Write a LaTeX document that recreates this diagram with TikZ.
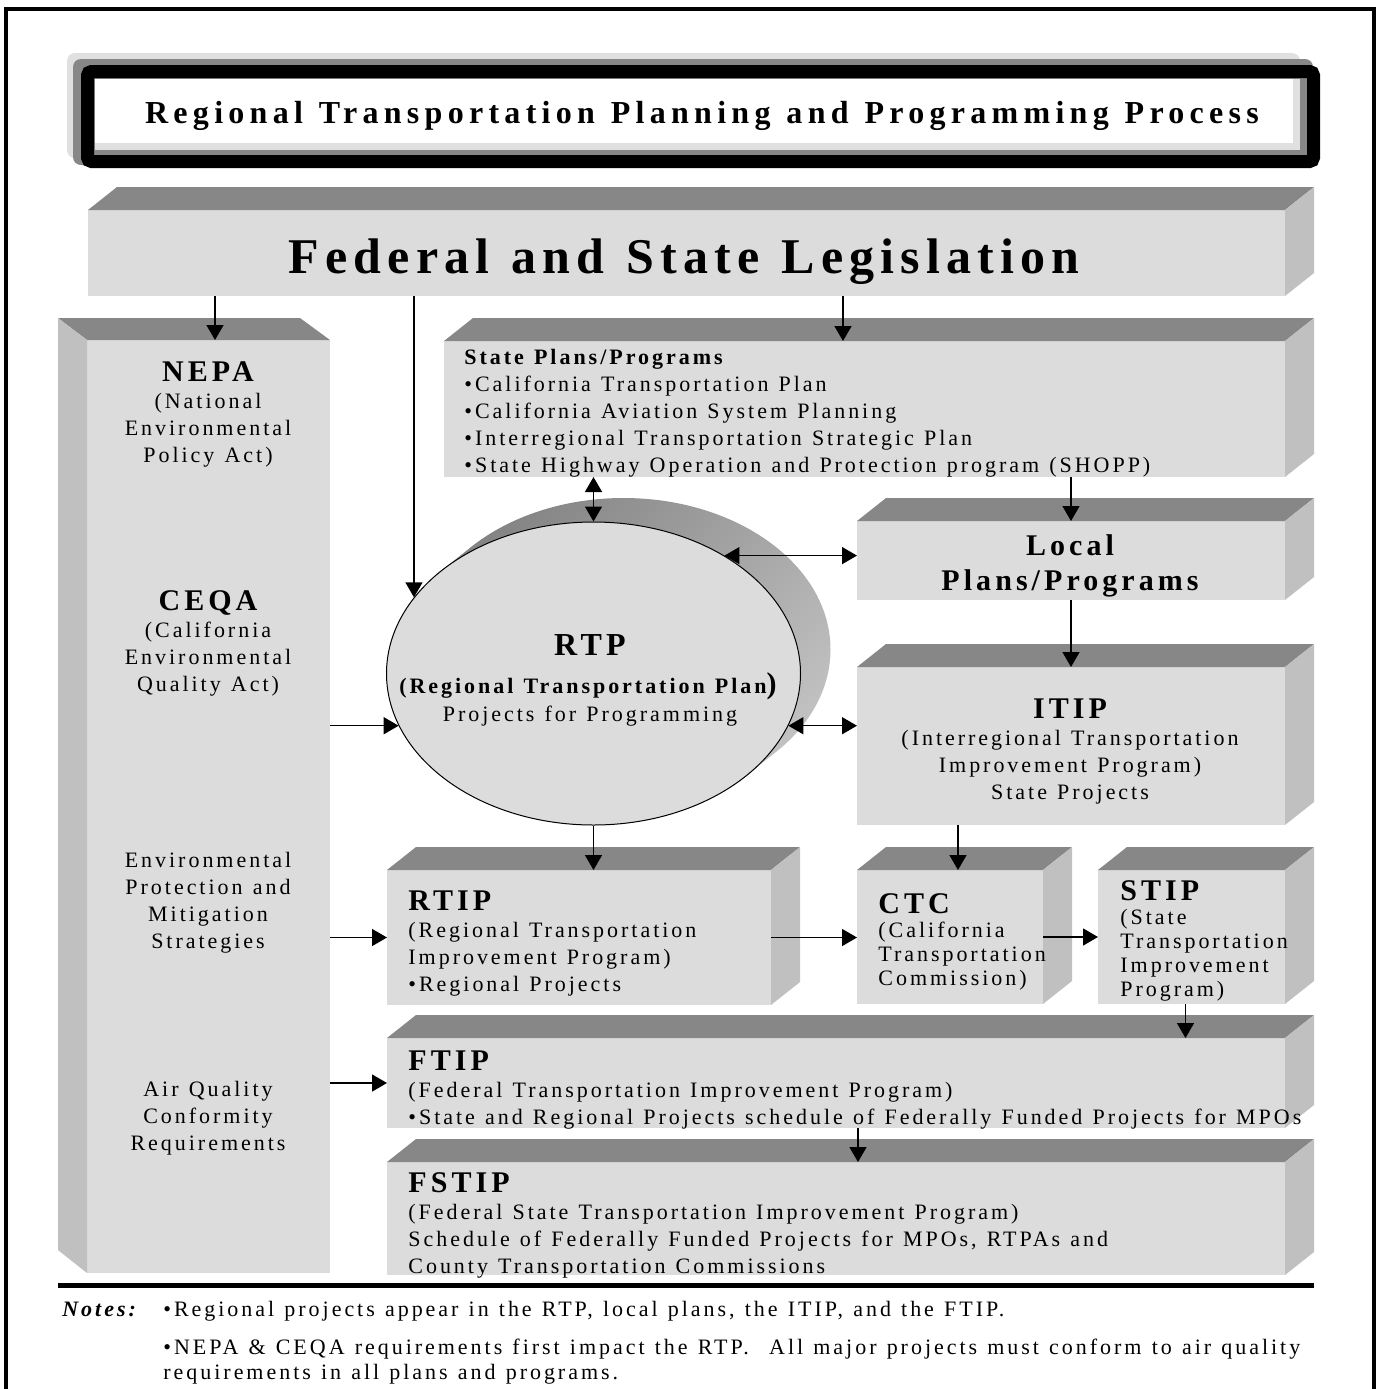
\documentclass[tikz,border=0pt]{standalone}
\usepackage{fontspec}
\setmainfont{Liberation Serif}[LetterSpace=13.5,WordSpace=1.2]
\usetikzlibrary{arrows.meta,calc,shapes.geometric}

\definecolor{facegray}{HTML}{DCDCDC}
\definecolor{topgray}{HTML}{878787}
\definecolor{sidegray}{HTML}{C0C0C0}
\definecolor{shadowdark}{HTML}{7E7E7E}
\definecolor{shadowlight}{HTML}{C6C6C6}
\definecolor{bevellight}{HTML}{E0E0E0}

\newcommand{\hd}{\fontsize{15}{13.5}\selectfont\bfseries}
\newcommand{\textrows}[2]{\begin{tabular}[t]{@{}#1@{}}#2\end{tabular}}
% top and right faces of a box node
\newcommand{\cuberight}[1]{%
  \fill[topgray] (#1.north west) -- ++(29,-23) -- ([shift={(29,-23)}]#1.north east) -- (#1.north east) -- cycle;
  \fill[sidegray] (#1.north east) -- ++(29,-23) -- ([shift={(29,-23)}]#1.south east) -- (#1.south east) -- cycle;}

\tikzset{
  face/.style={fill=facegray, inner sep=0pt, outer sep=0pt},
  txt/.style={inner sep=0pt, font=\fontsize{11}{13.5}\selectfont},
  arr/.style={-{Triangle[length=7.5pt,width=8.5pt]}, line width=0.75pt},
  darr/.style={{Triangle[length=7.5pt,width=8.5pt]}-{Triangle[length=7.5pt,width=8.5pt]}, line width=0.75pt}
}

\begin{document}
\begin{tikzpicture}[x=0.5pt, y=-0.5pt]
  \useasboundingbox (0,0) rectangle (1376,1389);
  % outer frame
  \draw[line width=2pt] (6,9) rectangle (1374,1420);

  % title plate
  \fill[bevellight, rounded corners=4pt] (67,53) rectangle (1300,158);
  \fill[topgray, rounded corners=4pt] (73,59) rectangle (1313,165);
  \fill[white] (95,79) rectangle (1307,155);
  \fill[bevellight] (95,143) rectangle (1307,155);
  \fill[bevellight] (1293,79) rectangle (1307,155);
  \fill[topgray] (95,150) rectangle (1307,155);
  \fill[topgray] (1300,79) rectangle (1307,155);
  \draw[line width=6.5pt, rounded corners=2pt] (87.5,71.5) rectangle (1313.5,161.5);
  \node[inner sep=0pt, anchor=base, font=\fontsize{16}{19}\selectfont\bfseries\addfontfeatures{LetterSpace=16.5}] (ttl) at (702,123)
    {Regional Transportation Planning and Programming Process};

  % boxes
  \node[face, minimum width=598.5pt, minimum height=43pt] (fed) at (686.5,253) {};
  \node[face, minimum width=121.5pt, minimum height=466.5pt] (env) at (208.5,806.5) {};
  \node[face, minimum width=420.5pt, minimum height=68pt] (statep) at (864.5,409) {};
  \node[face, minimum width=214pt, minimum height=39.5pt] (local) at (1071,560.5) {};
  \node[face, minimum width=214pt, minimum height=79pt] (itip) at (1071,746) {};
  \node[face, minimum width=192pt, minimum height=67.5pt] (rtip) at (579,937.5) {};
  \node[face, minimum width=93pt, minimum height=67pt] (ctc) at (950,937) {};
  \node[face, minimum width=93.5pt, minimum height=67pt] (stip) at (1191.5,937) {};
  \node[face, minimum width=449pt, minimum height=45pt] (ftip) at (836,1083) {};
  \node[face, minimum width=449pt, minimum height=56.5pt] (fstip) at (836,1218.5) {};

  \cuberight{fed}
  \cuberight{statep}
  \cuberight{local}
  \cuberight{itip}
  \cuberight{rtip}
  \cuberight{ctc}
  \cuberight{stip}
  \cuberight{ftip}
  \cuberight{fstip}
  % left column has its side face on the left
  \fill[topgray] (env.north west) -- ++(-29,-22) -- ([shift={(-30,-22)}]env.north east) -- (env.north east) -- cycle;
  \fill[sidegray] (env.north west) -- ++(-29,-22) -- ([shift={(-29,-23)}]env.south west) -- (env.south west) -- cycle;

  % RTP ellipse with its extruded shadow
  \begin{scope}
    \clip \foreach \t in {0,...,10} {(593.5+3*\t,673.5-2.4*\t) ellipse [x radius=207, y radius=151.5]};
    \shade[top color=shadowdark, bottom color=shadowlight, shading angle=45] (370,480) rectangle (850,840);
  \end{scope}
  \node[ellipse, fill=facegray, draw, line width=0.5pt, inner sep=0pt, minimum width=207pt, minimum height=151.5pt] (rtp) at (593.5,673.5) {};

  % texts
  \node[inner sep=0pt, anchor=base, font=\fontsize{25}{30}\selectfont\bfseries\addfontfeatures{LetterSpace=12.2}] (fedtxt) at (684,273)
    {Federal and State Legislation};
  \node[txt, anchor=base] (nepatxt) at (208,381) {\textrows{c}{{\hd NEPA}\\(National\\Environmental\\Policy Act)}};
  \node[txt, anchor=base] (ceqatxt) at (208,610) {\textrows{c}{{\hd CEQA}\\(California\\Environmental\\Quality Act)}};
  \node[txt, anchor=base] (mitigtxt) at (208,867) {\textrows{c}{Environmental\\Protection and\\Mitigation\\Strategies}};
  \node[txt, anchor=base] (airtxt) at (208,1096) {\textrows{c}{Air Quality\\Conformity\\Requirements}};
  \node[txt, anchor=base west] (stateptxt) at (464,364) {\textrows{l}{\textbf{State Plans/Programs}\\•California Transportation Plan\\•California Aviation System Planning\\•Interregional Transportation Strategic Plan\\•State Highway Operation and Protection program (SHOPP)}};
  \node[inner sep=0pt, anchor=base, font=\fontsize{11}{14}\selectfont] (rtptxt) at (590,655)
    {\textrows{c}{{\fontsize{16}{14}\selectfont\bfseries RTP}\\[4.5pt]\textbf{(Regional Transportation Plan{\fontsize{15}{14}\selectfont)}}\\Projects for Programming}};
  \node[inner sep=0pt, anchor=base, font=\fontsize{15}{17.5}\selectfont\bfseries] (localtxt) at (1070,555) {\textrows{c}{Local\\Plans/Programs}};
  \node[txt, anchor=base] (itiptxt) at (1070,718) {\textrows{c}{{\hd ITIP}\\(Interregional Transportation\\Improvement Program)\\State Projects}};
  \node[txt, anchor=base west] (rtiptxt) at (408,910) {\textrows{l}{{\hd RTIP}\\(Regional Transportation\\Improvement Program)\\•Regional Projects}};
  \node[inner sep=0pt, anchor=base west, font=\fontsize{11}{12}\selectfont] (ctctxt) at (878,913) {\textrows{l}{{\hd CTC}\\(California\\Transportation\\Commission)}};
  \node[inner sep=0pt, anchor=base west, font=\fontsize{11}{12}\selectfont] (stiptxt) at (1120,900) {\textrows{l}{{\hd STIP}\\(State\\Transportation\\Improvement\\Program)}};
  \node[txt, anchor=base west] (ftiptxt) at (408,1070) {\textrows{l}{{\hd FTIP}\\(Federal Transportation Improvement Program)\\•State and Regional Projects schedule of Federally Funded Projects for MPOs}};
  \node[txt, anchor=base west] (fstiptxt) at (408,1192) {\textrows{l}{{\hd FSTIP}\\(Federal State Transportation Improvement Program)\\Schedule of Federally Funded Projects for MPOs, RTPAs and\\County Transportation Commissions}};

  % connectors
  \coordinate (nepaIn) at ([xshift=3.25pt]env.north);
  \coordinate (stateIn) at ([xshift=-10.75pt]statep.north);
  \coordinate (ctcIn) at ([xshift=4pt]ctc.north);
  \coordinate (ftipIn) at ([xshift=-3pt]stip.south);
  \coordinate (fstipIn) at ([xshift=11pt]ftip.south);
  \draw[arr] (nepaIn |- fed.south) -- (nepaIn);
  \draw[arr] (rtp.157 |- fed.south) -- (rtp.157);
  \draw[arr] (stateIn |- fed.south) -- (stateIn);
  \draw[darr] (rtp.north |- statep.south) -- (rtp.north);
  \draw[arr] (local.north |- statep.south) -- (local.north);
  \draw[darr] (rtp.42) -- (rtp.42 -| local.west);
  \draw[arr] (local.south) -- (itip.north);
  \draw[darr] (rtp.-15) -- (rtp.-15 -| itip.west);
  \draw[arr] (rtp.195 -| env.east) -- (rtp.195);
  \draw[arr] (rtp.south) -- (rtp.south |- rtip.north);
  \draw[arr] (rtip.west -| env.east) -- (rtip.west);
  \draw[arr] (rtip.east) -- (rtip.east -| ctc.west);
  \draw[arr] (ctcIn |- itip.south) -- (ctcIn);
  \draw[arr] (ctc.east) -- (ctc.east -| stip.west);
  \draw[arr] (ftipIn) -- (ftipIn |- ftip.north);
  \draw[arr] (ftip.west -| env.east) -- (ftip.west);
  \draw[arr] (fstipIn) -- (fstipIn |- fstip.north);

  % notes
  \draw[line width=2.5pt] (58,1285) -- (1314,1285);
  \node[inner sep=0pt, anchor=base west, font=\fontsize{11}{13}\selectfont\bfseries\itshape] (notelbl) at (62,1316) {Notes:};
  \node[inner sep=0pt, anchor=base west, font=\fontsize{11}{12.5}\selectfont] (note1) at (163,1316)
    {•Regional projects appear in the RTP, local plans, the ITIP, and the FTIP.};
  \node[inner sep=0pt, anchor=base west, font=\fontsize{11}{12.5}\selectfont] (note2) at (163,1354)
    {\textrows{l}{•NEPA \& CEQA requirements first impact the RTP.~ All major projects must conform to air quality\\requirements in all plans and programs.}};
\end{tikzpicture}
\end{document}
